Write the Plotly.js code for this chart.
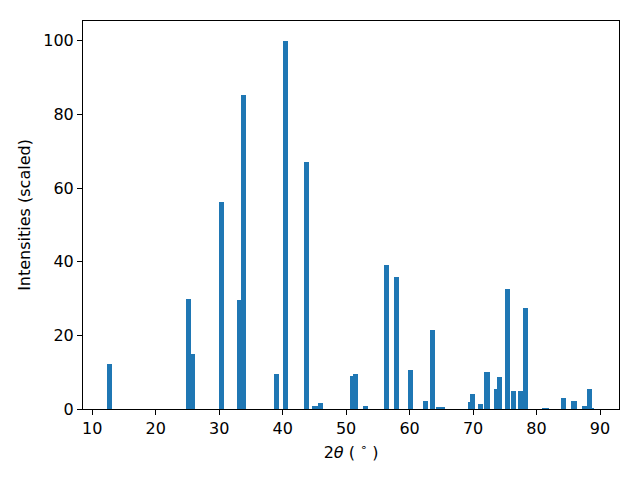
<!DOCTYPE html>
<html>
<head>
<meta charset="utf-8">
<script src="https://cdn.plot.ly/plotly-3.0.1.min.js"></script>
<style>html,body{margin:0;padding:0;background:#fff;}#chart{width:640px;height:480px;}</style>
</head>
<body>
<div id="chart"></div>
<script>
const twoTheta = [12.7, 25.2, 25.8, 30.4, 33.2, 33.8, 39.1, 40.4, 43.8, 45.1, 45.9,
  51.0, 51.5, 53.1, 56.4, 58.0, 60.2, 62.5, 63.6, 64.6, 65.2,
  69.6, 69.9, 71.1, 72.2, 73.7, 74.1, 75.4, 76.3, 77.4, 78.2,
  81.2, 81.6, 84.2, 85.9, 87.5, 88.3, 88.6];
const intensity = [12.2, 29.9, 15.0, 56.3, 29.6, 85.3, 9.5, 100, 67.2, 0.8, 1.6,
  9.0, 9.4, 0.8, 39.1, 35.9, 10.6, 2.2, 21.5, 0.5, 0.5,
  1.9, 4.1, 1.4, 10.1, 5.4, 8.7, 32.6, 4.9, 4.9, 27.4,
  0.3, 0.3, 3.0, 2.2, 0.8, 5.4, 0.4];
const barWidth = twoTheta.map(() => 0.8);

const axisCommon = {
  showgrid: false, zeroline: false, showline: true, mirror: true,
  linecolor: '#000', linewidth: 1, ticks: 'outside', ticklen: 5, tickwidth: 1,
  tickcolor: '#000', tickfont: {family: 'DejaVu Sans', size: 16, color: '#000'}
};

Plotly.newPlot('chart', [{
  type: 'bar', x: twoTheta, y: intensity, width: barWidth,
  marker: {color: '#1f77b4', line: {width: 0}}
}], {
  width: 640, height: 480,
  margin: {l: 83, r: 21, t: 21, b: 71, pad: 0},
  paper_bgcolor: '#fff', plot_bgcolor: '#fff',
  showlegend: false, bargap: 0, barmode: 'overlay',
  font: {family: 'DejaVu Sans', size: 16, color: '#000'},
  xaxis: Object.assign({}, axisCommon, {
    range: [8.55, 92.99], tickvals: [10,20,30,40,50,60,70,80,90],
    title: {text: '2<i>θ</i> ( <sup>∘</sup> )', font: {family: 'DejaVu Sans', size: 16, color: '#000'}, standoff: 9}
  }),
  yaxis: Object.assign({}, axisCommon, {
    range: [0, 105.4], tickvals: [0,20,40,60,80,100],
    title: {text: 'Intensities (scaled)', font: {family: 'DejaVu Sans', size: 16, color: '#000'}, standoff: 8}
  })
}, {staticPlot: true});
</script>
</body>
</html>
